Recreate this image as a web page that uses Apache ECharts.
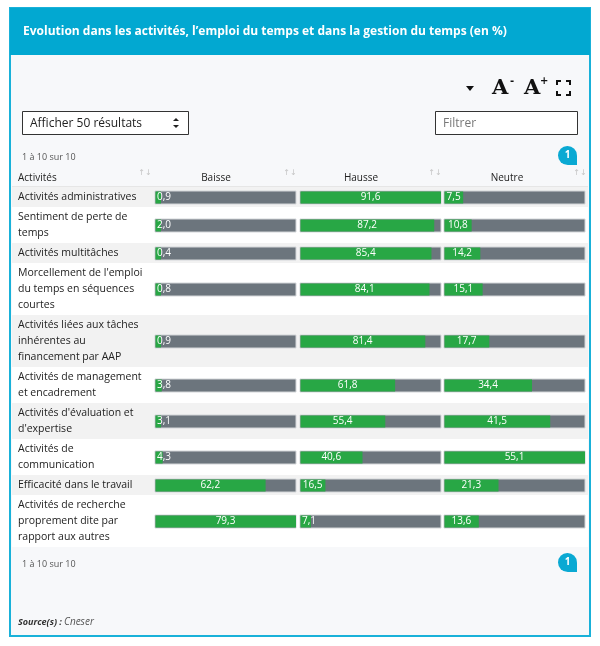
<!DOCTYPE html>
<html>

<head>
  <meta charset="utf-8" />
  <title>Evolution dans les activités</title>
  <script src="https://cdn.jsdelivr.net/npm/echarts@6/dist/echarts.min.js"></script>
  <style>
    html, body { margin: 0; padding: 0; background: #fff; }
  </style>
</head>

<body>
  <div id="main" style="width:600px;height:646px;"></div>
  <script type="text/javascript">

    // Table data
    var activities = [
      'Activités administratives',
      'Sentiment de perte de\ntemps',
      'Activités multitâches',
      "Morcellement de l'emploi\ndu temps en séquences\ncourtes",
      'Activités liées aux tâches\ninhérentes au\nfinancement par AAP',
      'Activités de management\net encadrement',
      "Activités d'évaluation et\nd'expertise",
      'Activités de\ncommunication',
      'Efficacité dans le travail',
      'Activités de recherche\nproprement dite par\nrapport aux autres'
    ];
    var columns = ['Baisse', 'Hausse', 'Neutre'];
    var baisse = [0.9, 2.0, 0.4, 0.8, 0.9, 3.8, 3.1, 4.3, 62.2, 79.3];
    var hausse = [91.6, 87.2, 85.4, 84.1, 81.4, 61.8, 55.4, 40.6, 16.5, 7.1];
    var neutre = [7.5, 10.8, 14.2, 15.1, 17.7, 34.4, 41.5, 55.1, 21.3, 13.6];

    var values = [baisse, hausse, neutre];

    // Layout of the table
    var tableTop = 187, lineH = 16, rowPad = 4;
    var colLeft = [155, 300, 444], colWidth = 141;
    var headerX = [216, 361, 507];
    var fontMain = '"Open Sans", "DejaVu Sans", sans-serif';

    // row centres / heights from the number of text lines
    var rowCenter = [], rowHeight = [], acc = 0;
    activities.forEach(function (a) {
      var h = a.split('\n').length * lineH + rowPad;
      rowCenter.push(acc + h / 2);
      rowHeight.push(h);
      acc += h;
    });
    var tableH = acc;

    var measure = document.createElement('canvas').getContext('2d');
    measure.font = '10px ' + fontMain;

    function fmt(v) {
      return v.toFixed(1).replace('.', ',');
    }

    function renderBar(params, api) {
      var cs = params.coordSys;
      var v = api.value(0);
      var yc = api.value(1);
      var p0 = api.coord([0, yc]);
      var p1 = api.coord([v, yc]);
      var h = 13;
      var top = Math.round(p0[1] - h / 2);
      var gw = Math.max(p1[0] - p0[0], 6);
      var label = fmt(v);
      var tw = measure.measureText(label).width;
      var tx = p0[0] + gw / 2, align = 'center';
      if (gw < tw + 4) {
        tx = p0[0] + 2;
        align = 'left';
      }
      return {
        type: 'group',
        children: [
          { type: 'rect', shape: { x: cs.x, y: top, width: cs.width, height: h },
            style: { fill: '#6c757d', stroke: '#d3d6d9', lineWidth: 1 } },
          { type: 'rect', shape: { x: p0[0] + 0.5, y: top + 0.5, width: gw - 0.5, height: h - 1 },
            style: { fill: '#28a745' } },
          { type: 'text', x: tx, y: p0[1] + 0.5,
            style: { text: label, fill: '#fff', font: '10px ' + fontMain, align: align, verticalAlign: 'middle' } }
        ]
      };
    }

    function renderRow(params, api) {
      var cs = params.coordSys;
      var i = params.dataIndex;
      var yc = api.value(0);
      var h = api.size([0, api.value(1)])[1];
      var p = api.coord([0, yc]);
      return {
        type: 'group',
        children: [
          { type: 'rect', shape: { x: cs.x, y: p[1] - h / 2, width: cs.width, height: h },
            style: { fill: i % 2 === 0 ? '#f2f2f2' : '#ffffff' } },
          { type: 'text', x: 18, y: p[1],
            style: { text: activities[i], fill: '#222', font: '10.5px ' + fontMain,
              lineHeight: lineH, align: 'left', verticalAlign: 'middle' } }
        ]
      };
    }

    var chart = echarts.init(document.getElementById('main'));

    var grids = colLeft.map(function (l) {
      return { left: l, width: colWidth, top: tableTop, height: tableH };
    });
    grids.push({ left: 12, width: 576, top: tableTop, height: tableH });

    var xAxes = values.map(function (vals, i) {
      return { gridIndex: i, type: 'value', min: 0, max: Math.max.apply(null, vals), show: false };
    });
    xAxes.push({ gridIndex: 3, type: 'value', min: 0, max: 1, show: false });

    var yAxes = grids.map(function (g, i) {
      return { gridIndex: i, type: 'value', min: 0, max: tableH, inverse: true, show: false };
    });

    var series = [{
      type: 'custom',
      name: 'rows',
      xAxisIndex: 3,
      yAxisIndex: 3,
      z: 1,
      silent: true,
      renderItem: renderRow,
      data: activities.map(function (a, i) { return [rowCenter[i], rowHeight[i]]; })
    }];
    values.forEach(function (vals, c) {
      series.push({
        type: 'custom',
        name: columns[c],
        xAxisIndex: c,
        yAxisIndex: c,
        z: 3,
        renderItem: renderBar,
        data: vals.map(function (v, i) { return [v, rowCenter[i]]; })
      });
    });

    // chrome: panel, title, toolbar, controls, header
    var graphics = [
      { type: 'rect', z: -10, shape: { x: 10, y: 8, width: 580, height: 628 },
        style: { fill: '#f7f8fa', stroke: '#19b1d9', lineWidth: 2 } },
      { type: 'rect', z: -9, shape: { x: 10, y: 8, width: 580, height: 47 },
        style: { fill: '#02a8d1' } },
      { type: 'text', x: 23, y: 32, style: { text: 'Evolution dans les activités, l\u2019emploi du temps et dans la gestion du temps (en %)',
        fill: '#fff', font: 'bold 12px ' + fontMain, verticalAlign: 'middle' } },
      // toolbar
      { type: 'polygon', shape: { points: [[466, 86], [474, 86], [470, 91]] }, style: { fill: '#111' } },
      { type: 'text', x: 492, y: 89, style: { text: 'A', fill: '#111', font: 'bold 21px "DejaVu Serif", serif', verticalAlign: 'middle' } },
      { type: 'text', x: 510, y: 81, style: { text: '-', fill: '#111', font: 'bold 10px "DejaVu Sans", sans-serif', verticalAlign: 'middle' } },
      { type: 'text', x: 524, y: 89, style: { text: 'A', fill: '#111', font: 'bold 21px "DejaVu Serif", serif', verticalAlign: 'middle' } },
      { type: 'text', x: 540, y: 81, style: { text: '+', fill: '#111', font: 'bold 10px "DejaVu Sans", sans-serif', verticalAlign: 'middle' } },
      { type: 'polyline', shape: { points: [[557, 85], [557, 81], [561, 81]] }, style: { stroke: '#111', lineWidth: 2, fill: null } },
      { type: 'polyline', shape: { points: [[566, 81], [570, 81], [570, 85]] }, style: { stroke: '#111', lineWidth: 2, fill: null } },
      { type: 'polyline', shape: { points: [[557, 91], [557, 95], [561, 95]] }, style: { stroke: '#111', lineWidth: 2, fill: null } },
      { type: 'polyline', shape: { points: [[566, 95], [570, 95], [570, 91]] }, style: { stroke: '#111', lineWidth: 2, fill: null } },
      // select box
      { type: 'rect', shape: { x: 22.5, y: 111.5, width: 166, height: 23 }, style: { fill: '#fff', stroke: '#333', lineWidth: 1 } },
      { type: 'text', x: 30, y: 124, style: { text: 'Afficher 50 résultats', fill: '#222', font: '12px ' + fontMain, verticalAlign: 'middle' } },
      { type: 'polygon', shape: { points: [[173, 121], [179, 121], [176, 118]] }, style: { fill: '#222' } },
      { type: 'polygon', shape: { points: [[173, 125], [179, 125], [176, 128]] }, style: { fill: '#222' } },
      // filter box
      { type: 'rect', shape: { x: 435.5, y: 111.5, width: 142, height: 23 }, style: { fill: '#fff', stroke: '#333', lineWidth: 1 } },
      { type: 'text', x: 443, y: 124, style: { text: 'Filtrer', fill: '#777', font: '12px ' + fontMain, verticalAlign: 'middle' } },
      // info + pagination top
      { type: 'text', x: 22, y: 157, style: { text: '1 à 10 sur 10', fill: '#555', font: '9px ' + fontMain, verticalAlign: 'middle' } },
      { type: 'rect', shape: { x: 558, y: 146, width: 19, height: 19, r: [10, 10, 0, 10] }, style: { fill: '#0aa9d3' } },
      { type: 'text', x: 567.5, y: 155.5, style: { text: '1', fill: '#fff', font: 'bold 10px ' + fontMain, align: 'center', verticalAlign: 'middle' } },
      // table header
      { type: 'text', x: 18, y: 178, style: { text: 'Activités', fill: '#222', font: '10px ' + fontMain, verticalAlign: 'middle' } },
      { type: 'line', shape: { x1: 12, y1: 186.5, x2: 588, y2: 186.5 }, style: { stroke: '#e6e6e6', lineWidth: 1 } },
      // bottom info + pagination
      { type: 'text', x: 22, y: 564, style: { text: '1 à 10 sur 10', fill: '#555', font: '9px ' + fontMain, verticalAlign: 'middle' } },
      { type: 'rect', shape: { x: 558, y: 553, width: 19, height: 19, r: [10, 10, 0, 10] }, style: { fill: '#0aa9d3' } },
      { type: 'text', x: 567.5, y: 562.5, style: { text: '1', fill: '#fff', font: 'bold 10px ' + fontMain, align: 'center', verticalAlign: 'middle' } },
      // source
      { type: 'text', x: 18, y: 622, style: { text: 'Source(s) :', fill: '#333', font: 'italic bold 9px ' + fontMain, verticalAlign: 'middle' } },
      { type: 'text', x: 64, y: 622, style: { text: 'Cneser', fill: '#555', font: 'italic 10px ' + fontMain, verticalAlign: 'middle' } }
    ];
    // sort arrows and column titles
    [145, 290, 435, 580].forEach(function (x) {
      graphics.push({ type: 'text', x: x, y: 173, style: { text: '↑↓', fill: '#c4c4c4', font: '8px "DejaVu Sans", sans-serif', align: 'center', verticalAlign: 'middle' } });
    });
    columns.forEach(function (c, i) {
      graphics.push({ type: 'text', x: headerX[i], y: 178, style: { text: c, fill: '#222', font: '10px ' + fontMain, align: 'center', verticalAlign: 'middle' } });
    });

    var option = {
      animation: false,
      grid: grids,
      xAxis: xAxes,
      yAxis: yAxes,
      graphic: { elements: graphics },
      series: series
    };

    chart.setOption(option);
  </script>
</body>

</html>
